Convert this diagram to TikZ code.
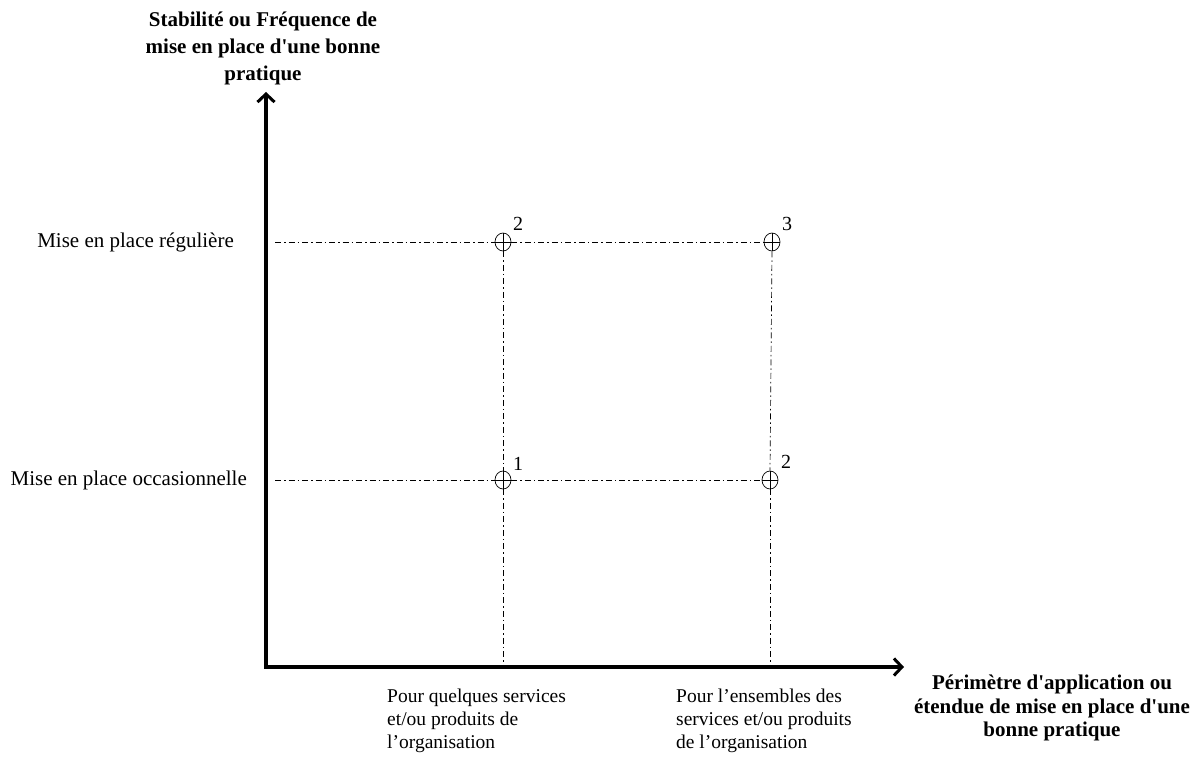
\documentclass[tikz,border=0pt]{standalone}
\usepackage{fontspec}
\setmainfont{Liberation Serif}[Ligatures=TeXOff]
\usetikzlibrary{arrows.meta,shapes.geometric}
\begin{document}
\begin{tikzpicture}[x=1pt,y=-1pt,
  axis/.style={line width=3.6pt,-{Straight Barb[length=8pt,width=17pt,line width=3pt]}},
  guide/.style={line width=0.7pt,dash pattern=on 6pt off 3pt on 1.5pt off 3pt},
  marker/.style={ellipse,draw,line width=0.7pt,minimum width=16pt,minimum height=18pt,inner sep=0pt,
    path picture={\draw[line width=0.7pt] (path picture bounding box.north) -- (path picture bounding box.south)
      (path picture bounding box.west) -- (path picture bounding box.east);}},
  num/.style={font=\fontsize{20}{20}\selectfont,inner sep=0pt,anchor=south west},
  lab/.style={font=\fontsize{21}{23}\selectfont,inner sep=0pt},
  bold/.style={font=\fontsize{21}{27}\selectfont\bfseries,inner sep=0pt,align=center},
  boldx/.style={font=\fontsize{21}{23.5}\selectfont\bfseries,inner sep=0pt,align=center},
  foot/.style={font=\fontsize{19.5}{23}\selectfont,inner sep=0pt,align=left,anchor=north west}]
\useasboundingbox (0,0) rectangle (1198,762);

% axes
\coordinate (o) at (266,667);
\coordinate (ytip) at (266,92);
\coordinate (xtip) at (904,667);
\draw[axis] (o) ++(0,1.8) -- (ytip);
\draw[axis] (o) ++(-1.8,0) -- (xtip);

% markers
\node[marker] (m12) at (503,242) {};
\node[marker] (m3) at (772,242) {};
\node[marker] (m1) at (503,480) {};
\node[marker] (m22) at (770,480) {};
\node[num] (n12) at (513,231) {2};
\node[num] (n3) at (782,231) {3};
\node[num] (n1) at (513,471) {1};
\node[num] (n22) at (781,469) {2};

% guide lines
\coordinate (yr) at (275,242);
\coordinate (yo) at (275,480);
\coordinate (xa) at (503,665);
\coordinate (xb) at (770,665);
\draw[guide] (yr) -- (m12.west);
\draw[guide] (m12.east) -- (m3.west);
\draw[guide] (yo) -- (m1.west);
\draw[guide] (m1.east) -- (m22.west);
\draw[guide] (m12.south) -- (m1.north);
\draw[guide] (m1.south) -- (xa);
\draw[guide] (m3.south) -- (m22.north);
\draw[guide] (m22.south) -- (xb);

% texts
\node[bold] (ytitle) at (263,48) {Stabilité ou Fréquence de\\mise en place d'une bonne\\pratique};
\node[boldx] (xtitle) at (1052,708) {Périmètre d'application ou\\étendue de mise en place d'une\\bonne pratique};
\node[lab,anchor=east] (lreg) at (234,242) {Mise en place régulière};
\node[lab,anchor=east] (locc) at (247,480) {Mise en place occasionnelle};
\node[foot] (f1) at (387,689) {Pour quelques services\\et/ou produits de\\l’organisation};
\node[foot] (f2) at (676,689) {Pour l’ensembles des\\services et/ou produits\\de l’organisation};
\end{tikzpicture}
\end{document}
